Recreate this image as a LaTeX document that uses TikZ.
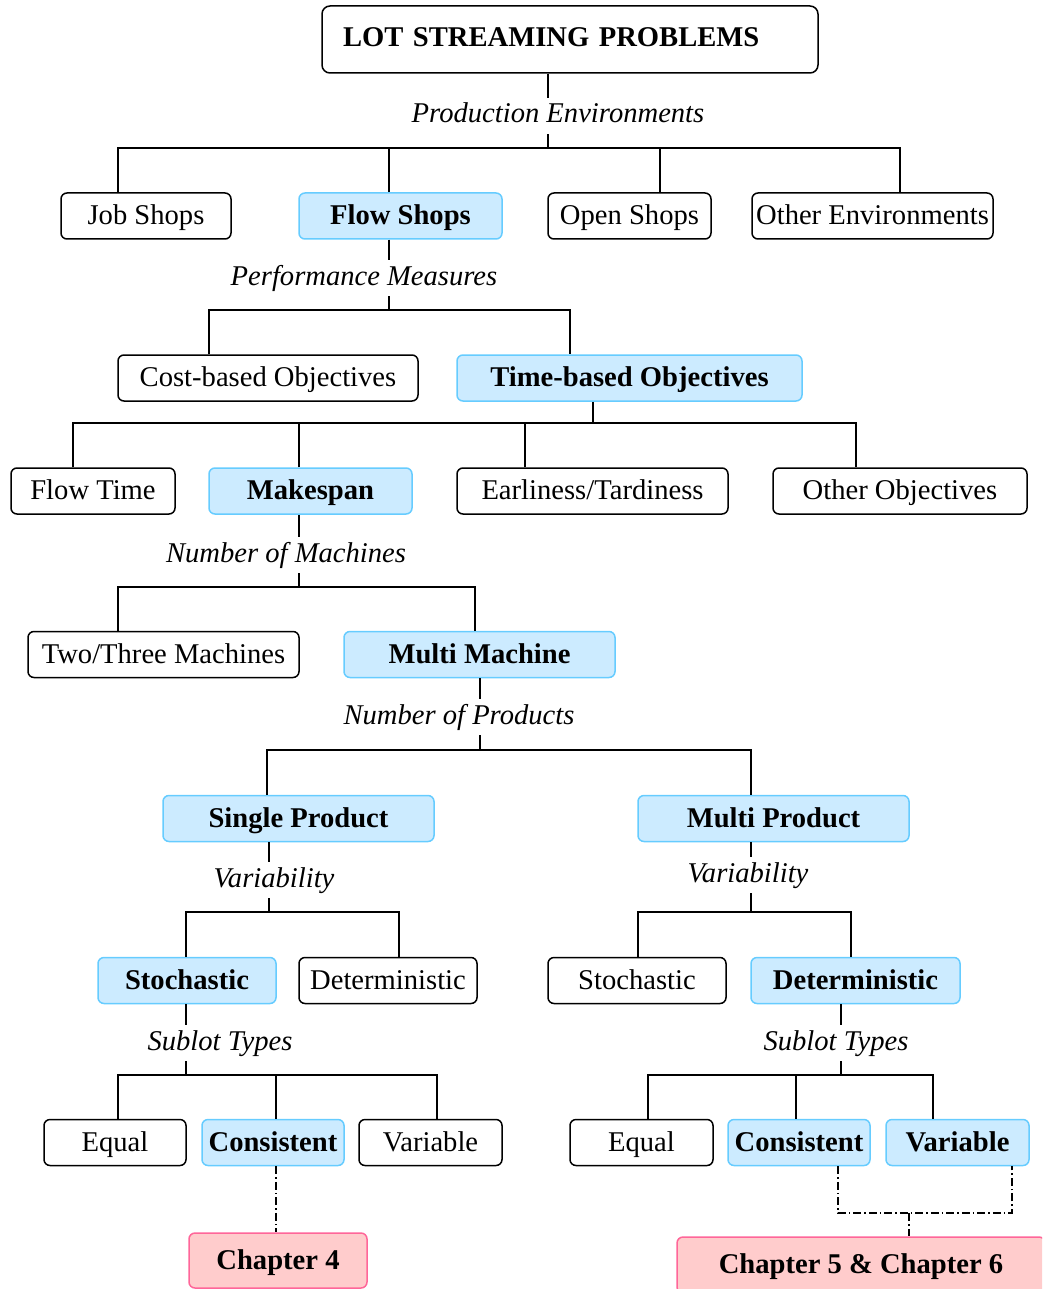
\documentclass[tikz,border=0pt]{standalone}
\usepackage{fontspec}
\setmainfont{Liberation Serif}
\usetikzlibrary{calc}
\definecolor{hifill}{HTML}{CCEBFF}
\definecolor{hiline}{HTML}{66CCFF}
\definecolor{chfill}{HTML}{FFCCCC}
\definecolor{chline}{HTML}{FF6699}
\newcommand{\bigtxt}{\fontsize{28.6pt}{34pt}\selectfont}
\begin{document}
\begin{tikzpicture}[x=1pt,y=-1pt,
  basebox/.style={rounded corners=6pt, line width=1.5pt, minimum height=46pt,
    inner sep=0pt, text height=19.5pt, text depth=2pt, font=\bigtxt},
  plainbox/.style={basebox, draw=black, fill=white},
  hibox/.style={basebox, draw=hiline, fill=hifill, font=\bigtxt\bfseries},
  chapbox/.style={basebox, draw=chline, fill=chfill, font=\bigtxt\bfseries},
  titlebox/.style={draw=black, fill=white, rounded corners=8pt, line width=1.5pt,
    minimum height=67pt, text width=454pt, inner xsep=21pt, inner ysep=0pt,
    align=left, text height=19.5pt, text depth=6pt, font=\bigtxt\bfseries},
  lbl/.style={fill=white, inner xsep=2pt, inner ysep=5pt, anchor=base,
    text height=20pt, text depth=6pt, font=\bigtxt\itshape},
  link/.style={line width=1.6pt},
  dlink/.style={line width=1.6pt, dash pattern=on 8pt off 3pt on 1.5pt off 3pt}
]
\useasboundingbox (0,0) rectangle (1042,1289);
\clip (0,0) rectangle (1042,1289);

% ---------- boxes ----------
\node[titlebox] (top) at (570,39.5) {LOT STREAMING PROBLEMS};

\node[plainbox, minimum width=170pt] (job)  at (146,216)   {Job Shops};
\node[hibox,    minimum width=203pt] (flow) at (400.5,216) {Flow Shops};
\node[plainbox, minimum width=163pt] (open) at (629.5,216) {Open Shops};
\node[plainbox, minimum width=241pt] (oenv) at (872.5,216) {Other Environments};

\node[plainbox, minimum width=300pt] (cost) at (268,378)   {Cost-based Objectives};
\node[hibox,    minimum width=345pt] (time) at (629.5,378) {Time-based Objectives};

\node[plainbox, minimum width=164pt] (ftime) at (93,491)    {Flow Time};
\node[hibox,    minimum width=203pt] (mks)   at (310.5,491) {Makespan};
\node[plainbox, minimum width=271pt] (early) at (592.5,491) {Earliness/Tardiness};
\node[plainbox, minimum width=254pt] (oobj)  at (900,491)   {Other Objectives};

\node[plainbox, minimum width=271pt] (twoth)  at (163.5,654.5) {Two/Three Machines};
\node[hibox,    minimum width=271pt] (multim) at (479.5,654.5) {Multi Machine};

\node[hibox, minimum width=271pt] (single) at (298.5,818.5) {Single Product};
\node[hibox, minimum width=271pt] (multip) at (773.5,818.5) {Multi Product};

\node[hibox,    minimum width=178pt] (stoL) at (187,980.5)   {Stochastic};
\node[plainbox, minimum width=178pt] (detL) at (388,980.5)   {Deterministic};
\node[plainbox, minimum width=178pt] (stoR) at (637,980.5)   {Stochastic};
\node[hibox,    minimum width=209pt] (detR) at (855.5,980.5) {Deterministic};

\node[plainbox, minimum width=142pt] (eqL)  at (115,1142.5)   {Equal};
\node[hibox,    minimum width=142pt] (conL) at (273,1142.5)   {Consistent};
\node[plainbox, minimum width=143pt] (varL) at (430.5,1142.5) {Variable};
\node[plainbox, minimum width=143pt] (eqR)  at (641.5,1142.5) {Equal};
\node[hibox,    minimum width=142pt] (conR) at (799,1142.5)   {Consistent};
\node[hibox,    minimum width=143pt] (varR) at (957.5,1142.5) {Variable};

\node[chapbox, minimum width=178pt, minimum height=55pt] (ch4)  at (278,1260.5) {Chapter 4};
\node[chapbox, minimum width=368pt, minimum height=56pt] (ch56) at (861,1265)   {Chapter 5 \& Chapter 6};

% ---------- junctions ----------
\coordinate (j1) at (548,148);
\coordinate (j2) at (389,310);
\coordinate (j3) at (593,423);
\coordinate (j4) at (299,587);
\coordinate (j5) at (480,750);
\coordinate (j6l) at (269,912);
\coordinate (j6r) at (751,912);
\coordinate (j7l) at (186,1075);
\coordinate (j7r) at (841,1075);
\coordinate (jd) at (909,1213);

% ---------- tree connectors ----------
\draw[link] (top.south -| j1) -- (j1);
\draw[link] (118,0 |- job.north) |- (j1) -| (900,0 |- oenv.north);
\draw[link] (389,0 |- flow.north) -- (389,0 |- j1);
\draw[link] (660,0 |- open.north) -- (660,0 |- j1);

\draw[link] (flow.south -| j2) -- (j2);
\draw[link] (209,0 |- cost.north) |- (j2) -| (570,0 |- time.north);

\draw[link] (time.south -| j3) -- (j3);
\draw[link] (73,0 |- ftime.north) |- (j3) -| (856,0 |- oobj.north);
\draw[link] (299,0 |- mks.north) -- (299,0 |- j3);
\draw[link] (525,0 |- early.north) -- (525,0 |- j3);

\draw[link] (mks.south -| j4) -- (j4);
\draw[link] (118,0 |- twoth.north) |- (j4) -| (475,0 |- multim.north);

\draw[link] (multim.south -| j5) -- (j5);
\draw[link] (267,0 |- single.north) |- (j5) -| (751,0 |- multip.north);

\draw[link] (single.south -| j6l) -- (j6l);
\draw[link] (186,0 |- stoL.north) |- (j6l) -| (399,0 |- detL.north);

\draw[link] (multip.south -| j6r) -- (j6r);
\draw[link] (638,0 |- stoR.north) |- (j6r) -| (851,0 |- detR.north);

\draw[link] (stoL.south -| j7l) -- (j7l);
\draw[link] (118,0 |- eqL.north) |- (j7l) -| (437,0 |- varL.north);
\draw[link] (276,0 |- conL.north) -- (276,0 |- j7l);

\draw[link] (detR.south -| j7r) -- (j7r);
\draw[link] (648,0 |- eqR.north) |- (j7r) -| (933,0 |- varR.north);
\draw[link] (796,0 |- conR.north) -- (796,0 |- j7r);

% ---------- chapter links ----------
\draw[dlink] (276,0 |- conL.south) -- (276,0 |- ch4.north);
\draw[dlink] (838,0 |- conR.south) |- (jd) -| (1012,0 |- varR.south);
\draw[dlink] (jd) -- (jd |- ch56.north);

% ---------- branch labels ----------
\node[lbl] (lpe) at (558,123)  {Production Environments};
\node[lbl] (lpm) at (364,285)  {Performance Measures};
\node[lbl] (lnm) at (286,562)  {Number of Machines};
\node[lbl] (lnp) at (459,724)  {Number of Products};
\node[lbl] (lvl) at (274,887)  {Variability};
\node[lbl] (lvr) at (748,882)  {Variability};
\node[lbl] (lsl) at (220,1050) {Sublot Types};
\node[lbl] (lsr) at (836,1050) {Sublot Types};
\end{tikzpicture}
\end{document}
